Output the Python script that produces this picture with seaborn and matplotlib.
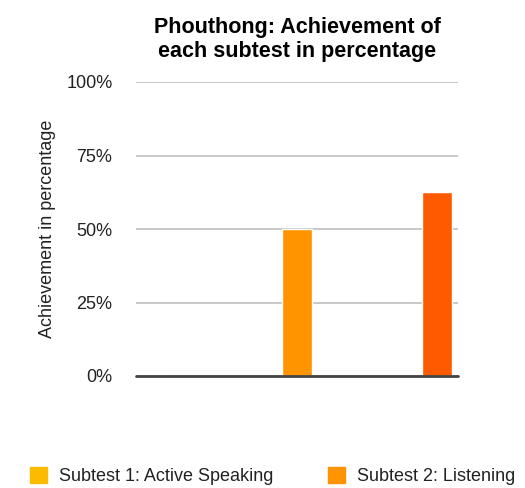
import matplotlib
matplotlib.use("Agg")
import matplotlib.pyplot as plt
import seaborn as sns
import pandas as pd

# Chart data
subtests = ["Subtest 1: Active Speaking", "Subtest 2: Listening", "Subtest 3: Reading"]
achievement = [0, 50, 62.5]
colors = ["#FDBB00", "#FF9300", "#FF5A00"]
y_ticks = [0, 25, 50, 75, 100]
y_labels = ["0%", "25%", "50%", "75%", "100%"]

df = pd.DataFrame({"Subtest": subtests, "Achievement": achievement})

sns.set_style("white")
plt.rcParams["font.family"] = ["Liberation Sans", "DejaVu Sans"]

fig = plt.figure(figsize=(5.25, 4.88), dpi=100)
ax = fig.add_axes([136 / 525, 1 - 376 / 488, 322 / 525, 294 / 488])

sns.barplot(data=df, x="Subtest", y="Achievement", hue="Subtest",
            palette=colors, dodge=False, width=0.214, saturation=1,
            ax=ax, legend=False)

# Axes limits so bars sit where the reference has them
ax.set_xlim(-0.15, 2.15)
ax.set_ylim(0, 100)
ax.set_yticks(y_ticks)
ax.set_yticklabels(y_labels, fontsize=13, color="#222222")
ax.tick_params(axis="y", length=0, pad=17)
ax.set_xticks([])
ax.set_xlabel("")
ax.set_ylabel("Achievement in percentage", fontsize=13, color="#222222", labelpad=7.5)

# Gridlines and baseline
ax.yaxis.grid(True, color="#C8C8C8", linewidth=1.4)
ax.set_axisbelow(True)
ax.axhline(0, color="#444444", linewidth=2, clip_on=False, zorder=5)
sns.despine(ax=ax, left=True, bottom=True)

ax.set_title("Phouthong: Achievement of\neach subtest in percentage",
             fontsize=15.5, fontweight="bold", linespacing=1.2, pad=18, color="black")

# Legend below the chart: only the first row is visible in the reference
handles = [plt.Rectangle((0, 0), 1, 1, color=c) for c in colors]
fig.legend(handles[:2], subtests[:2],
           loc="upper left", bbox_to_anchor=(30 / 525, 1 - 467 / 488),
           ncol=2, frameon=False, fontsize=13, handlelength=0.95, handleheight=0.95,
           handletextpad=0.65, columnspacing=3.05,
           borderpad=0, borderaxespad=0, labelcolor="#222222")

fig.savefig("out.png", dpi=100)
plt.close()
